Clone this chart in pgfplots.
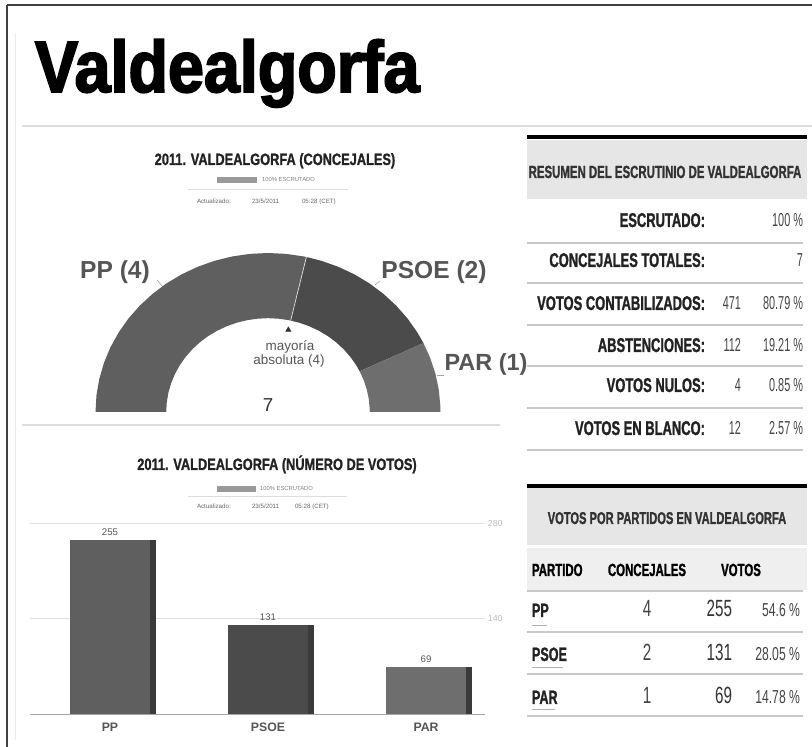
\documentclass[border=0pt]{standalone}
\usepackage{fontspec}
\setmainfont{Liberation Sans}
\usepackage{pgfplots}
\pgfplotsset{compat=1.18}
\usepgfplotslibrary{polar}
\newfontfamily\titlefont[FakeStretch=0.89,BoldFeatures={FakeBold=2.5}]{Liberation Sans}
\newfontfamily\ccond[FakeStretch=0.78,BoldFeatures={FakeBold=1.2}]{Liberation Sans}
\newfontfamily\tcond[FakeStretch=0.65,BoldFeatures={FakeBold=1.2}]{Liberation Sans}
\newfontfamily\tnum[FakeStretch=0.58]{Liberation Sans}
\newcommand\fs[1]{\fontsize{#1}{#1}\selectfont}
\definecolor{ppc}{HTML}{5F5F5F}
\definecolor{psoec}{HTML}{4B4B4B}
\definecolor{parc}{HTML}{6E6E6E}
\definecolor{edgec}{HTML}{3A3A3A}
\definecolor{hdr}{HTML}{E6E6E6}
\definecolor{hdrb}{HTML}{EFEFEF}
\definecolor{sep}{HTML}{C8C8C8}
\definecolor{txt}{HTML}{222222}
\definecolor{lbl}{HTML}{555555}
\definecolor{val}{HTML}{444444}
\definecolor{faint}{HTML}{DDDDDD}
\definecolor{tickc}{HTML}{BBBBBB}
\begin{document}
\begin{tikzpicture}
\path[use as bounding box] (0,0) rectangle (243.6mm,-224.1mm);
\begin{scope}[x=0.3mm,y=-0.3mm,every node/.style={inner sep=0pt,outer sep=0pt}]
\coordinate (donutSW) at (95.5,412);
\coordinate (barSW) at (30,714);
% frame
\draw[color=black!75,line width=0.6mm] (7,5) -- (812,5);
\draw[color=black!75,line width=0.6mm] (7,5) -- (7,747);
\draw[color=black!8,line width=0.3mm] (15,33) -- (15,740);
\draw[color=faint,line width=0.4mm] (22,126) -- (812,126);
\draw[color=faint,line width=0.4mm] (22,425) -- (500,425);
% main title
\node[anchor=base west] at (35,92) {\titlefont\bfseries\fs{62}Valdealgorfa};
% chart 1 header
\node[anchor=base,text=txt] at (275,165) {\ccond\bfseries\fs{14}2011. VALDEALGORFA (CONCEJALES)};
\fill[black!40] (217,177) rectangle (257,183);
\node[anchor=base west,text=black!50] at (262,182) {\fs{5}100\% ESCRUTADO};
\draw[color=faint,line width=0.3mm] (188,190) -- (348,190);
\node[anchor=base west,text=black!60] at (197,204) {\fs{5.3}Actualizado:};
\node[anchor=base west,text=black!60] at (252,204) {\fs{5.3}23/5/2011};
\node[anchor=base west,text=black!60] at (302,204) {\fs{5.3}05:28 (CET)};
% donut labels
\node[anchor=base,text=lbl] at (115,279) {\bfseries\fs{21}PP (4)};
\node[anchor=base,text=lbl] at (434,279) {\bfseries\fs{21}PSOE (2)};
\node[anchor=base,text=lbl] at (486,371) {\bfseries\fs{20}PAR (1)};
\draw[color=black!35,line width=0.2mm] (157,280) -- (163,287);
\draw[color=black!35,line width=0.2mm] (375,285) -- (380,281);
\draw[color=black!35,line width=0.2mm] (437,375) -- (444,375);
\node[anchor=base,text=lbl] at (290,351) {\fs{11.5}mayoría};
\node[anchor=base,text=lbl] at (289,364.5) {\fs{11.5}absoluta (4)};
\node[anchor=base,text=black!80] at (268,412) {\fs{16}7};
% chart 2 header
\node[anchor=base,text=txt] at (277,470) {\ccond\bfseries\fs{14}2011. VALDEALGORFA (NÚMERO DE VOTOS)};
\fill[black!40] (217,486) rectangle (256,492);
\node[anchor=base west,text=black!50] at (260,491) {\fs{5}100\% ESCRUTADO};
\draw[color=faint,line width=0.3mm] (188,497) -- (347,497);
\node[anchor=base west,text=black!60] at (197,509) {\fs{5.3}Actualizado:};
\node[anchor=base west,text=black!60] at (252,509) {\fs{5.3}23/5/2011};
\node[anchor=base west,text=black!60] at (295,509) {\fs{5.3}05:28 (CET)};
% table 1
\draw[color=black,line width=1.05mm] (527,137) -- (807,137);
\fill[hdr] (527,140) rectangle (807,199);
\node[anchor=base,text=black!80] at (665,178) {\tcond\bfseries\fs{15}RESUMEN DEL ESCRUTINIO DE VALDEALGORFA};
\foreach \yy in {243,283,325,366,408,450}{\draw[color=sep,line width=0.45mm] (527,\yy) -- (803,\yy);}
\node[anchor=base east,text=txt] at (705,227) {\tcond\bfseries\fs{17}ESCRUTADO:};
\node[anchor=base east,text=txt] at (705,267) {\tcond\bfseries\fs{17}CONCEJALES TOTALES:};
\node[anchor=base east,text=txt] at (705,310) {\tcond\bfseries\fs{17}VOTOS CONTABILIZADOS:};
\node[anchor=base east,text=txt] at (705,352) {\tcond\bfseries\fs{17}ABSTENCIONES:};
\node[anchor=base east,text=txt] at (705,392) {\tcond\bfseries\fs{17}VOTOS NULOS:};
\node[anchor=base east,text=txt] at (705,435) {\tcond\bfseries\fs{17}VOTOS EN BLANCO:};
\node[anchor=base east,text=val] at (741,310) {\tnum\fs{16}471};
\node[anchor=base east,text=val] at (741,352) {\tnum\fs{16}112};
\node[anchor=base east,text=val] at (741,392) {\tnum\fs{16}4};
\node[anchor=base east,text=val] at (741,435) {\tnum\fs{16}12};
\node[anchor=base east,text=val] at (803,227) {\tnum\fs{16}100 \%};
\node[anchor=base east,text=val] at (803,267) {\tnum\fs{16}7};
\node[anchor=base east,text=val] at (803,310) {\tnum\fs{16}80.79 \%};
\node[anchor=base east,text=val] at (803,352) {\tnum\fs{16}19.21 \%};
\node[anchor=base east,text=val] at (803,392) {\tnum\fs{16}0.85 \%};
\node[anchor=base east,text=val] at (803,435) {\tnum\fs{16}2.57 \%};
% table 2
\draw[color=black,line width=1.05mm] (527,486) -- (807,486);
\fill[hdr] (527,488) rectangle (807,545);
\fill[hdrb] (527,548) rectangle (807,590);
\node[anchor=base,text=black!80] at (667,524) {\tcond\bfseries\fs{14.6}VOTOS POR PARTIDOS EN VALDEALGORFA};
\node[anchor=base west,text=black] at (532,576) {\tcond\bfseries\fs{15}PARTIDO};
\node[anchor=base,text=black] at (647,576) {\tcond\bfseries\fs{15}CONCEJALES};
\node[anchor=base,text=black] at (741,576) {\tcond\bfseries\fs{15}VOTOS};
\foreach \yy in {591,632,674,716}{\draw[color=sep,line width=0.45mm] (527,\yy) -- (803,\yy);}
\node[anchor=base west,text=txt] at (532,617) {\tcond\bfseries\fs{16.5}PP};
\node[anchor=base west,text=txt] at (532,661) {\tcond\bfseries\fs{16.5}PSOE};
\node[anchor=base west,text=txt] at (532,704) {\tcond\bfseries\fs{16.5}PAR};
\draw[color=black!30,line width=0.2mm] (532,625) -- (547,625);
\draw[color=black!30,line width=0.2mm] (532,667) -- (563,667);
\draw[color=black!30,line width=0.2mm] (532,709) -- (555,709);
\node[anchor=base,text=val] at (647,617) {\tcond\fs{20}4};
\node[anchor=base,text=val] at (647,661) {\tcond\fs{20}2};
\node[anchor=base,text=val] at (647,704) {\tcond\fs{20}1};
\node[anchor=base east,text=black!80] at (732,617) {\tcond\fs{20}255};
\node[anchor=base east,text=black!80] at (732,661) {\tcond\fs{20}131};
\node[anchor=base east,text=black!80] at (732,704) {\tcond\fs{20}69};
\node[anchor=base east,text=val] at (800,617) {\tcond\fs{16}54.6 \%};
\node[anchor=base east,text=val] at (800,661) {\tcond\fs{16}28.05 \%};
\node[anchor=base east,text=val] at (800,704) {\tcond\fs{16}14.78 \%};
\end{scope}
% donut (seats 4, 2, 1 of 7 -> 102.86, 51.43, 25.71 degrees)
\begin{axis}[at={(donutSW)},anchor=south west,scale only axis,
  width=103.5mm,height=47.7mm,xmin=-1,xmax=1,ymin=0,ymax=1,
  hide axis,clip=false]
\addplot[fill=ppc,draw=none,data cs=polar] coordinates {
(180,1) (174,1) (168,1) (162,1) (156,1) (150,1) (144,1) (138,1) (132,1) (126,1) (120,1) (114,1) (108,1) (102,1) (96,1) (90,1) (84,1) (78,1) (77.14,1)
(77.14,0.59) (78,0.59) (84,0.59) (90,0.59) (96,0.59) (102,0.59) (108,0.59) (114,0.59) (120,0.59) (126,0.59) (132,0.59) (138,0.59) (144,0.59) (150,0.59) (156,0.59) (162,0.59) (168,0.59) (174,0.59) (180,0.59)};
\addplot[fill=psoec,draw=none,data cs=polar] coordinates {
(77.14,1) (72,1) (66,1) (60,1) (54,1) (48,1) (42,1) (36,1) (30,1) (25.71,1)
(25.71,0.59) (30,0.59) (36,0.59) (42,0.59) (48,0.59) (54,0.59) (60,0.59) (66,0.59) (72,0.59) (77.14,0.59)};
\addplot[fill=parc,draw=none,data cs=polar] coordinates {
(25.71,1) (20,1) (14,1) (8,1) (2,1) (0,1)
(0,0.59) (2,0.59) (8,0.59) (14,0.59) (20,0.59) (25.71,0.59)};
\addplot[draw=white!75!gray,line width=0.6pt,data cs=polar] coordinates {(77.14,0.59) (77.14,1)};
\addplot[only marks,mark=triangle*,mark size=2.6pt,color=black!80,data cs=polar] coordinates {(77.14,0.53)};
\end{axis}
% bar chart
\begin{axis}[at={(barSW)},anchor=south west,scale only axis,
  width=136.5mm,height=57.3mm,
  xmin=-0.506,xmax=2.373,ymin=0,ymax=280,
  /pgf/number format/assume math mode=true,
  axis line style={draw=none},tick style={draw=none},
  xtick={0,1,2},xticklabels={PP,PSOE,PAR},
  xticklabel style={font=\bfseries\fs{10.5},text=lbl},
  ytick={140,280},yticklabels={140,280},yticklabel pos=right,
  yticklabel style={font=\fs{7.5},text=tickc,xshift=-1pt},
  ymajorgrids,grid style={color=black!12,line width=0.7pt},
  extra y ticks={0},extra y tick labels={},
  extra y tick style={grid style={color=black!35,line width=0.8pt}},
  ybar,clip=false]
\addplot[fill=edgec,draw=none,bar width=25.8mm,bar shift=0.9mm] coordinates {(0,255)};
\addplot[fill=edgec,draw=none,bar width=25.8mm,bar shift=0.9mm] coordinates {(1,131)};
\addplot[fill=edgec,draw=none,bar width=25.8mm,bar shift=0.9mm] coordinates {(2,69)};
\addplot[fill=ppc,draw=none,bar width=24mm,bar shift=0mm,nodes near coords,
  every node near coord/.append style={font=\fs{8.2},text=lbl}] coordinates {(0,255)};
\addplot[fill=psoec,draw=none,bar width=24mm,bar shift=0mm,nodes near coords,
  every node near coord/.append style={font=\fs{8.2},text=lbl}] coordinates {(1,131)};
\addplot[fill=parc,draw=none,bar width=24mm,bar shift=0mm,nodes near coords,
  every node near coord/.append style={font=\fs{8.2},text=lbl}] coordinates {(2,69)};
\end{axis}
\end{tikzpicture}
\end{document}
